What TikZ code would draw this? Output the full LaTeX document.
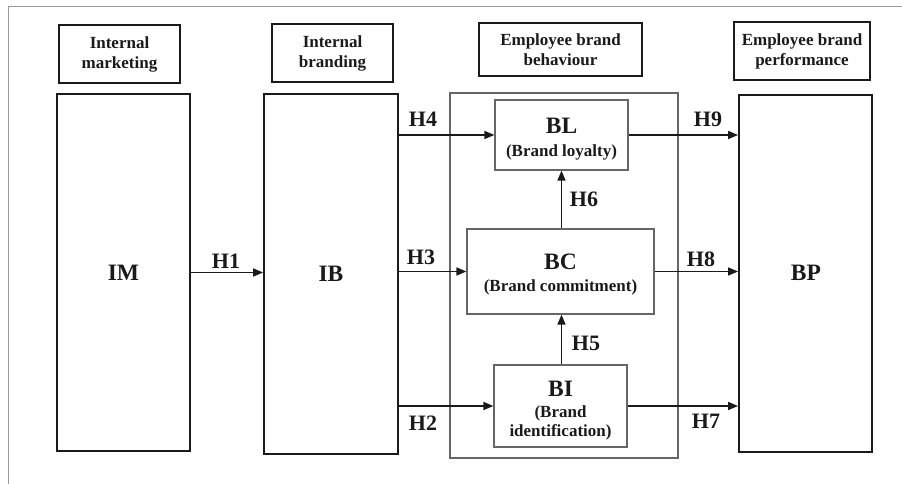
\documentclass[tikz,border=0pt]{standalone}
\usepackage{fontspec}
\setmainfont{Liberation Serif}
\usetikzlibrary{arrows.meta}
\definecolor{ink}{HTML}{1A1A1A}
\definecolor{framegray}{HTML}{9A9A9A}
\definecolor{boxgray}{HTML}{666666}
\tikzset{
  headbox/.style={draw=ink, line width=1.8pt, inner sep=0pt},
  bigbox/.style={draw=ink, line width=1.8pt, inner sep=0pt},
  groupbox/.style={draw=boxgray, line width=1.3pt, inner sep=0pt},
  constbox/.style={draw=boxgray, line width=1.2pt, inner sep=0pt},
  headtext/.style={text=ink, font=\fontsize{17}{20}\selectfont\bfseries, align=center, inner sep=0pt},
  bigtext/.style={text=ink, font=\fontsize{23.5}{26}\selectfont\bfseries, inner sep=0pt},
  subtext/.style={text=ink, font=\fontsize{17}{20}\selectfont\bfseries, inner sep=0pt},
  hyp/.style={text=ink, font=\fontsize{22}{24}\selectfont\bfseries, inner sep=0pt},
  arr/.style={draw=ink, line width=1.6pt, -{Triangle[length=10pt,width=8pt]}},
}
\begin{document}
\begin{tikzpicture}[x=1pt,y=-1pt]
\useasboundingbox (0,0) rectangle (902,484);
% outer frame (top and left edges)
\draw[framegray, line width=1pt] (8,484) -- (8,7) -- (902,7);

% column headers
\node[headbox, minimum width=121pt, minimum height=58pt] (hIM) at (119.5,54) {};
\node[headtext] (hIMt) at (119.5,54) {Internal\\marketing};
\node[headbox, minimum width=121pt, minimum height=58pt] (hIB) at (332.5,53) {};
\node[headtext] (hIBt) at (332.5,53) {Internal\\branding};
\node[headbox, minimum width=163pt, minimum height=53pt] (hEB) at (560.5,49.5) {};
\node[headtext] (hEBt) at (560.5,49.5) {Employee brand\\behaviour};
\node[headbox, minimum width=136pt, minimum height=58pt] (hBP) at (802,51) {};
\node[headtext] (hBPt) at (802,51) {Employee brand\\performance};

% main blocks
\node[bigbox, minimum width=133pt, minimum height=357pt] (IM) at (123.5,272.5) {};
\node[bigtext] (IMt) at (123.5,273) {IM};
\node[bigbox, minimum width=134pt, minimum height=360pt] (IB) at (331,274) {};
\node[bigtext] (IBt) at (331,274) {IB};
\node[bigbox, minimum width=133pt, minimum height=357pt] (BP) at (805.5,273.5) {};
\node[bigtext] (BPt) at (806,273) {BP};

% employee brand behaviour group
\node[groupbox, minimum width=228pt, minimum height=365pt] (EBB) at (564,275.5) {};
\node[constbox, minimum width=133pt, minimum height=70pt] (BL) at (561.5,135) {};
\node[bigtext] (BLt) at (561.5,126) {BL};
\node[subtext] (BLs) at (561.5,152) {(Brand loyalty)};
\node[constbox, minimum width=187pt, minimum height=85pt] (BC) at (560.5,271.5) {};
\node[bigtext] (BCt) at (560.5,262) {BC};
\node[subtext] (BCs) at (560.5,287) {(Brand commitment)};
\node[constbox, minimum width=133pt, minimum height=82pt] (BI) at (560.5,406) {};
\node[bigtext] (BIt) at (560.5,389) {BI};
\node[subtext] (BIs1) at (560.5,413) {(Brand};
\node[subtext] (BIs2) at (560.5,432) {identification)};

% hypothesised paths
\draw[arr] (IM.east) -- (IB.west |- IM.east);
\draw[arr] (IB.east |- BL.west) -- (BL.west);
\draw[arr] (IB.east |- BC.west) -- (BC.west);
\draw[arr] (IB.east |- BI.west) -- (BI.west);
\draw[arr] (BL.east) -- (BP.west |- BL.east);
\draw[arr] (BC.east) -- (BP.west |- BC.east);
\draw[arr] (BI.east) -- (BP.west |- BI.east);
\draw[arr] (BL.south |- BC.north) -- (BL.south);
\draw[arr] (BL.south |- BI.north) -- (BL.south |- BC.south);

% path labels
\node[hyp] (H1) at (226,261) {H1};
\node[hyp] (H2) at (423,423) {H2};
\node[hyp] (H3) at (421,257) {H3};
\node[hyp] (H4) at (423,119) {H4};
\node[hyp] (H5) at (586,343) {H5};
\node[hyp] (H6) at (584,199) {H6};
\node[hyp] (H7) at (706,421) {H7};
\node[hyp] (H8) at (701,259) {H8};
\node[hyp] (H9) at (708,119) {H9};
\end{tikzpicture}
\end{document}
